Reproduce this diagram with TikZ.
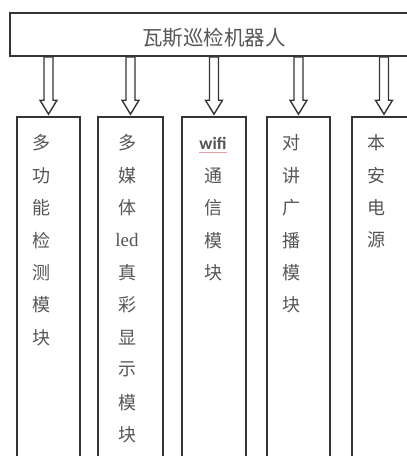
\documentclass[tikz,border=0pt]{standalone}
\usepackage{fontspec}
\setmainfont{Liberation Serif}
\newfontfamily\cjk{Noto Sans CJK SC}
\newfontfamily\wsans{Carlito}
\usetikzlibrary{calc}
\definecolor{linegray}{HTML}{353535}
\definecolor{txtgray}{HTML}{555555}
\definecolor{squig}{HTML}{E8A0A8}
\begin{document}
\begin{tikzpicture}[x=1pt,y=-1pt,
  box/.style={draw=linegray, line width=1.6pt, inner sep=0pt},
  ch/.style={text=txtgray, inner sep=0pt, font=\cjk\fontsize{18}{19}\selectfont},
  hollow/.style={draw=linegray, line width=1.4pt, fill=white, line join=miter}]
\useasboundingbox (0,0) rectangle (407,456);
\clip (0,0) rectangle (407,456);
% top box
\node[box, minimum width=410pt, minimum height=43pt] (top) at (215,34.5) {};
\node[ch, font=\cjk\fontsize{20.5}{21}\selectfont] (title) at (214,38) {瓦斯巡检机器人};
% child boxes
\node[box, minimum width=63pt, minimum height=353pt] (b1) at (48.5,293.5) {};
\node[box, minimum width=65pt, minimum height=353pt] (b2) at (130.5,293.5) {};
\node[box, minimum width=64pt, minimum height=353pt] (b3) at (214,293.5) {};
\node[box, minimum width=63pt, minimum height=353pt] (b4) at (298.5,293.5) {};
\node[box, minimum width=64pt, minimum height=353pt] (b5) at (384,293.5) {};
% arrows
\foreach \b in {b1,b2,b3,b4,b5}{
  \draw[hollow] let \p1=(top.south -| \b.north), \p2=(\b.north) in
    (\x1-4.5pt,\y1) -- (\x1+4.5pt,\y1) -- (\x1+4.5pt,\y2+16pt) -- (\x1+8.5pt,\y2+16pt)
    -- (\x1,\y2+2pt) -- (\x1-8.5pt,\y2+16pt) -- (\x1-4.5pt,\y2+16pt) -- cycle;
}
% column texts
\foreach \c [count=\i] in {多,功,能,检,测,模,块}
  \node[ch] (ta\i) at (41.5,143+32.4*\i-32.4) {\c};
\foreach \c [count=\i] in {多,媒,体,{\fontspec{Liberation Serif}\fontsize{19}{19}\selectfont led},真,彩,显,示,模,块}
  \node[ch] (tb\i) at (127,143+32.4*\i-32.4) {\c};
\foreach \c [count=\i] in {{\wsans\bfseries\fontsize{17.5}{18}\selectfont wifi},通,信,模,块}
  \node[ch] (tc\i) at (213,143+32.4*\i-32.4) {\c};
\draw[squig, line width=0.7pt] ($(tc1.south west)+(0,3)$) -- ($(tc1.south east)+(0,3)$);
\foreach \c [count=\i] in {对,讲,广,播,模,块}
  \node[ch] (td\i) at (291.5,143+32.4*\i-32.4) {\c};
\foreach \c [count=\i] in {本,安,电,源}
  \node[ch] (te\i) at (376,143+32.4*\i-32.4) {\c};
\end{tikzpicture}
\end{document}
